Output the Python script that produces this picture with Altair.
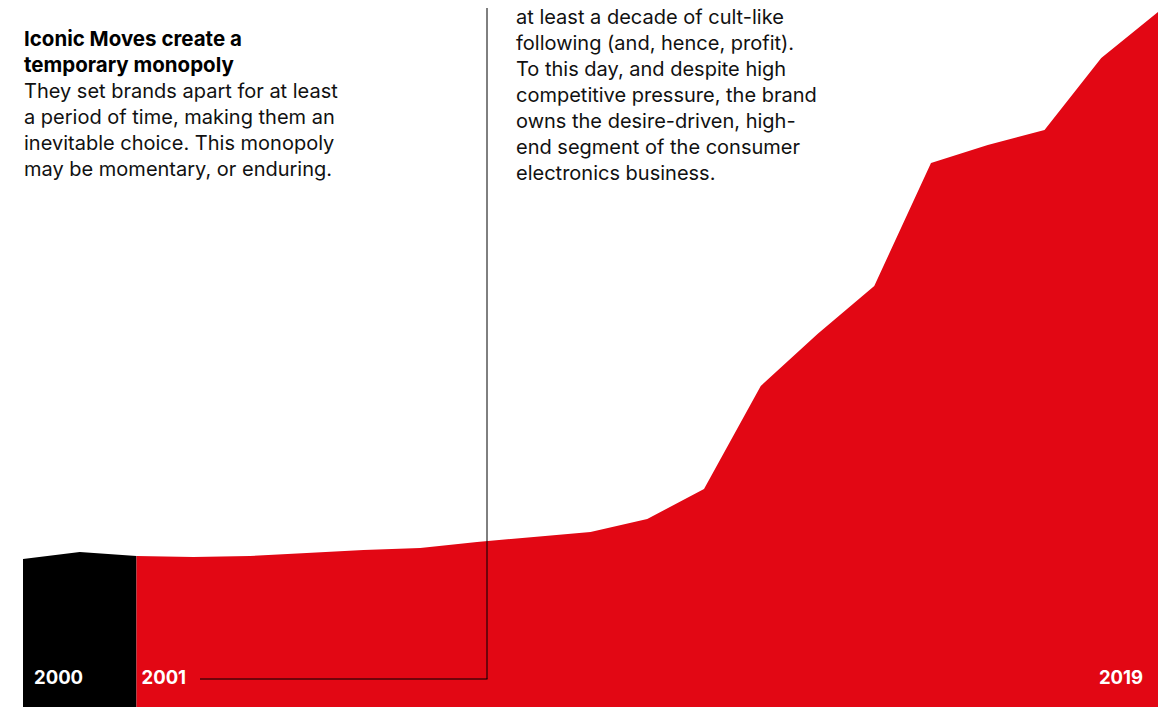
import altair as alt
import pandas as pd

# Data (step index, height value)
steps = list(range(21))
values = [148, 155, 151, 150, 151, 154, 157, 159, 165, 170, 175, 188,
          218, 321, 373, 421, 544, 562, 577, 649, 695]
black_steps = [0, 1, 2]
red_steps = list(range(2, 21))

rows = []
for s in black_steps:
    rows.append({"step": s, "value": values[s], "segment": "before"})
for s in red_steps:
    rows.append({"step": s, "value": values[s], "segment": "after"})
df = pd.DataFrame(rows)

title_lines = ["Iconic Moves create a", "temporary monopoly"]
body_lines = ["They set brands apart for at least",
              "a period of time, making them an",
              "inevitable choice. This monopoly",
              "may be momentary, or enduring."]
right_lines = ["at least a decade of cult-like",
               "following (and, hence, profit).",
               "To this day, and despite high",
               "competitive pressure, the brand",
               "owns the desire-driven, high-",
               "end segment of the consumer",
               "electronics business."]

RED = "#E20714"
FONT = "Inter"
FS = 20

x_scale = alt.Scale(domain=[0, 20], nice=False, zero=False)
y_scale = alt.Scale(domain=[0, 699], nice=False)

area = alt.Chart(df).mark_area(interpolate="linear", opacity=1).encode(
    x=alt.X("step:Q", scale=x_scale, axis=None),
    y=alt.Y("value:Q", scale=y_scale, axis=None, stack=None),
    color=alt.Color("segment:N", scale=alt.Scale(domain=["before", "after"], range=["#000000", RED]), legend=None),
)

base = alt.Chart(pd.DataFrame({"a": [0]}))

vrule = base.mark_rule(color="#000000", strokeWidth=1).encode(
    x=alt.value(464), y=alt.value(0), y2=alt.value(671))
hrule = base.mark_rule(color="#000000", strokeWidth=1).encode(
    x=alt.value(177), x2=alt.value(464.5), y=alt.value(671))

title_txt = base.mark_text(text=title_lines, font=FONT, fontSize=20.5, fontWeight="bold",
                           align="left", baseline="alphabetic", lineHeight=26,
                           color="#000000").encode(x=alt.value(1), y=alt.value(38))
body_txt = base.mark_text(text=body_lines, font=FONT, fontSize=FS,
                          align="left", baseline="alphabetic", lineHeight=26,
                          color="#111111").encode(x=alt.value(1), y=alt.value(90))
right_txt = base.mark_text(text=right_lines, font=FONT, fontSize=FS,
                           align="left", baseline="alphabetic", lineHeight=26,
                           color="#111111").encode(x=alt.value(493), y=alt.value(15.5))

lab_y = alt.value(676)
LFS = 18.5
lab2000 = base.mark_text(text="2000", font=FONT, fontSize=LFS, fontWeight="bold", color="white",
                         align="left", baseline="alphabetic", dx=11).encode(
    x=alt.X("s:Q", scale=x_scale, axis=None), y=lab_y).transform_calculate(s="0")
lab2001 = base.mark_text(text="2001", font=FONT, fontSize=LFS, fontWeight="bold", color="white",
                         align="left", baseline="alphabetic", dx=5).encode(
    x=alt.X("s:Q", scale=x_scale, axis=None), y=lab_y).transform_calculate(s="2")
lab2019 = base.mark_text(text="2019", font=FONT, fontSize=LFS, fontWeight="bold", color="white",
                         align="right", baseline="alphabetic", dx=-15).encode(
    x=alt.X("s:Q", scale=x_scale, axis=None), y=lab_y).transform_calculate(s="20")

chart = alt.layer(area, vrule, hrule, title_txt, body_txt, right_txt,
                  lab2000, lab2001, lab2019).properties(
    width=1135, height=699,
    autosize=alt.AutoSizeParams(type="none"),
    padding={"left": 15, "top": 0, "right": 0, "bottom": 0},
    background="white",
).configure_view(stroke=None)

chart.save("out.html", embed_options={"renderer": "svg", "actions": False})
